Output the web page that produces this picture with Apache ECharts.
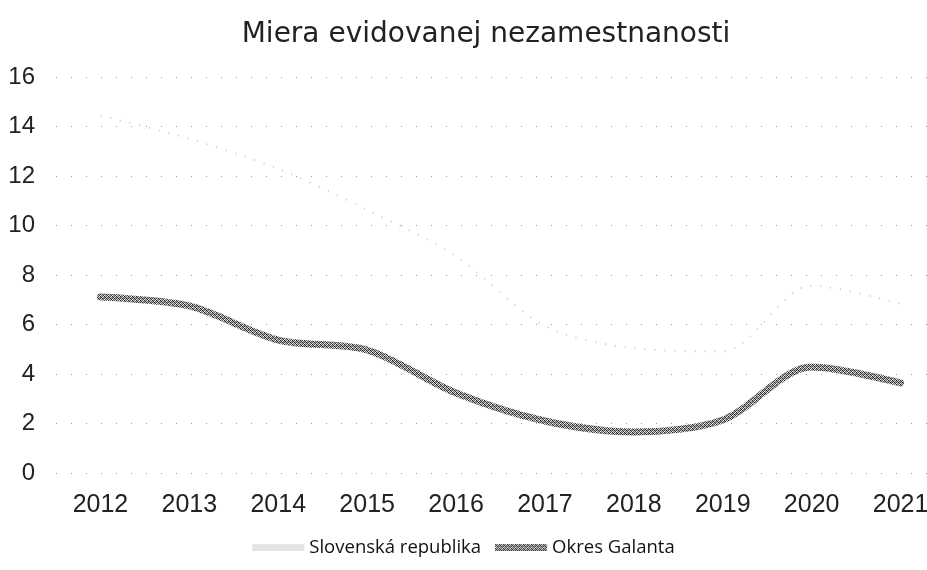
<!DOCTYPE html>
<html>
<head>
<meta charset="utf-8">
<script src="https://cdn.jsdelivr.net/npm/echarts@6/dist/echarts.min.js"></script>
<style>html,body{margin:0;padding:0;background:#fff}#c{width:927px;height:570px}</style>
</head>
<body>
<div id="c"></div>
<script>
const years = ['2012','2013','2014','2015','2016','2017','2018','2019','2020','2021'];
const slovensko = [14.44, 13.5, 12.29, 10.63, 8.76, 5.94, 5.04, 4.92, 7.57, 6.83];
const galanta = [7.11, 6.75, 5.37, 4.97, 3.23, 2.1, 1.66, 2.14, 4.28, 3.64];
const yTicks = [0, 2, 4, 6, 8, 10, 12, 14, 16];

// textured grey pattern for the Galanta line
const pc = document.createElement('canvas');
pc.width = 4; pc.height = 4;
const pctx = pc.getContext('2d');
const cells = ['#222','#bbb','#555','#eee','#999','#333','#ddd','#666','#444','#ccc','#222','#aaa','#eee','#777','#bbb','#333'];
cells.forEach((col, i) => { pctx.fillStyle = col; pctx.fillRect(i % 4, Math.floor(i / 4), 1, 1); });
const texture = { image: pc, repeat: 'repeat' };

const chart = echarts.init(document.getElementById('c'));
chart.setOption({
  animation: false,
  backgroundColor: '#fff',
  title: {
    text: 'Miera evidovanej nezamestnanosti',
    left: 481, top: 16, textAlign: 'center',
    textStyle: { fontFamily: 'DejaVu Sans', fontWeight: 'normal', fontSize: 28, color: '#222' }
  },
  grid: { left: 56, width: 889, top: 77, height: 396, outerBoundsMode: 'none', containLabel: false },
  legend: {
    bottom: 8, left: 'center', itemWidth: 52, itemHeight: 7, itemGap: 14,
    textStyle: { fontFamily: 'Open Sans', fontSize: 18.5, color: '#111' },
    data: [
      { name: 'Slovenská republika', icon: 'rect', itemStyle: { color: '#e4e4e4' } },
      { name: 'Okres Galanta', icon: 'rect', itemStyle: { color: texture } }
    ]
  },
  xAxis: {
    type: 'category', data: years, boundaryGap: true,
    axisLine: { show: false }, axisTick: { show: false },
    axisLabel: { margin: 20, fontFamily: 'Liberation Sans', fontSize: 25, color: '#222' }
  },
  yAxis: {
    type: 'value', min: yTicks[0], max: yTicks[yTicks.length - 1], interval: 2,
    axisLine: { show: false }, axisTick: { show: false },
    axisLabel: { margin: 21, fontFamily: 'Liberation Sans', fontSize: 24, color: '#222' },
    splitLine: { lineStyle: { color: '#999', width: 1, type: [1, 14] } }
  },
  series: [
    {
      name: 'Slovenská republika', type: 'line', data: slovensko, smooth: 0.3,
      showSymbol: false, symbol: 'none',
      lineStyle: { color: '#c8c8c8', width: 2, type: [1, 9] },
      itemStyle: { color: '#c8c8c8' }
    },
    {
      name: 'Okres Galanta', type: 'line', data: galanta, smooth: 0.3,
      showSymbol: false, symbol: 'none',
      lineStyle: { color: texture, width: 7, cap: 'round', join: 'round' },
      itemStyle: { color: '#777' }
    }
  ]
});
</script>
</body>
</html>
